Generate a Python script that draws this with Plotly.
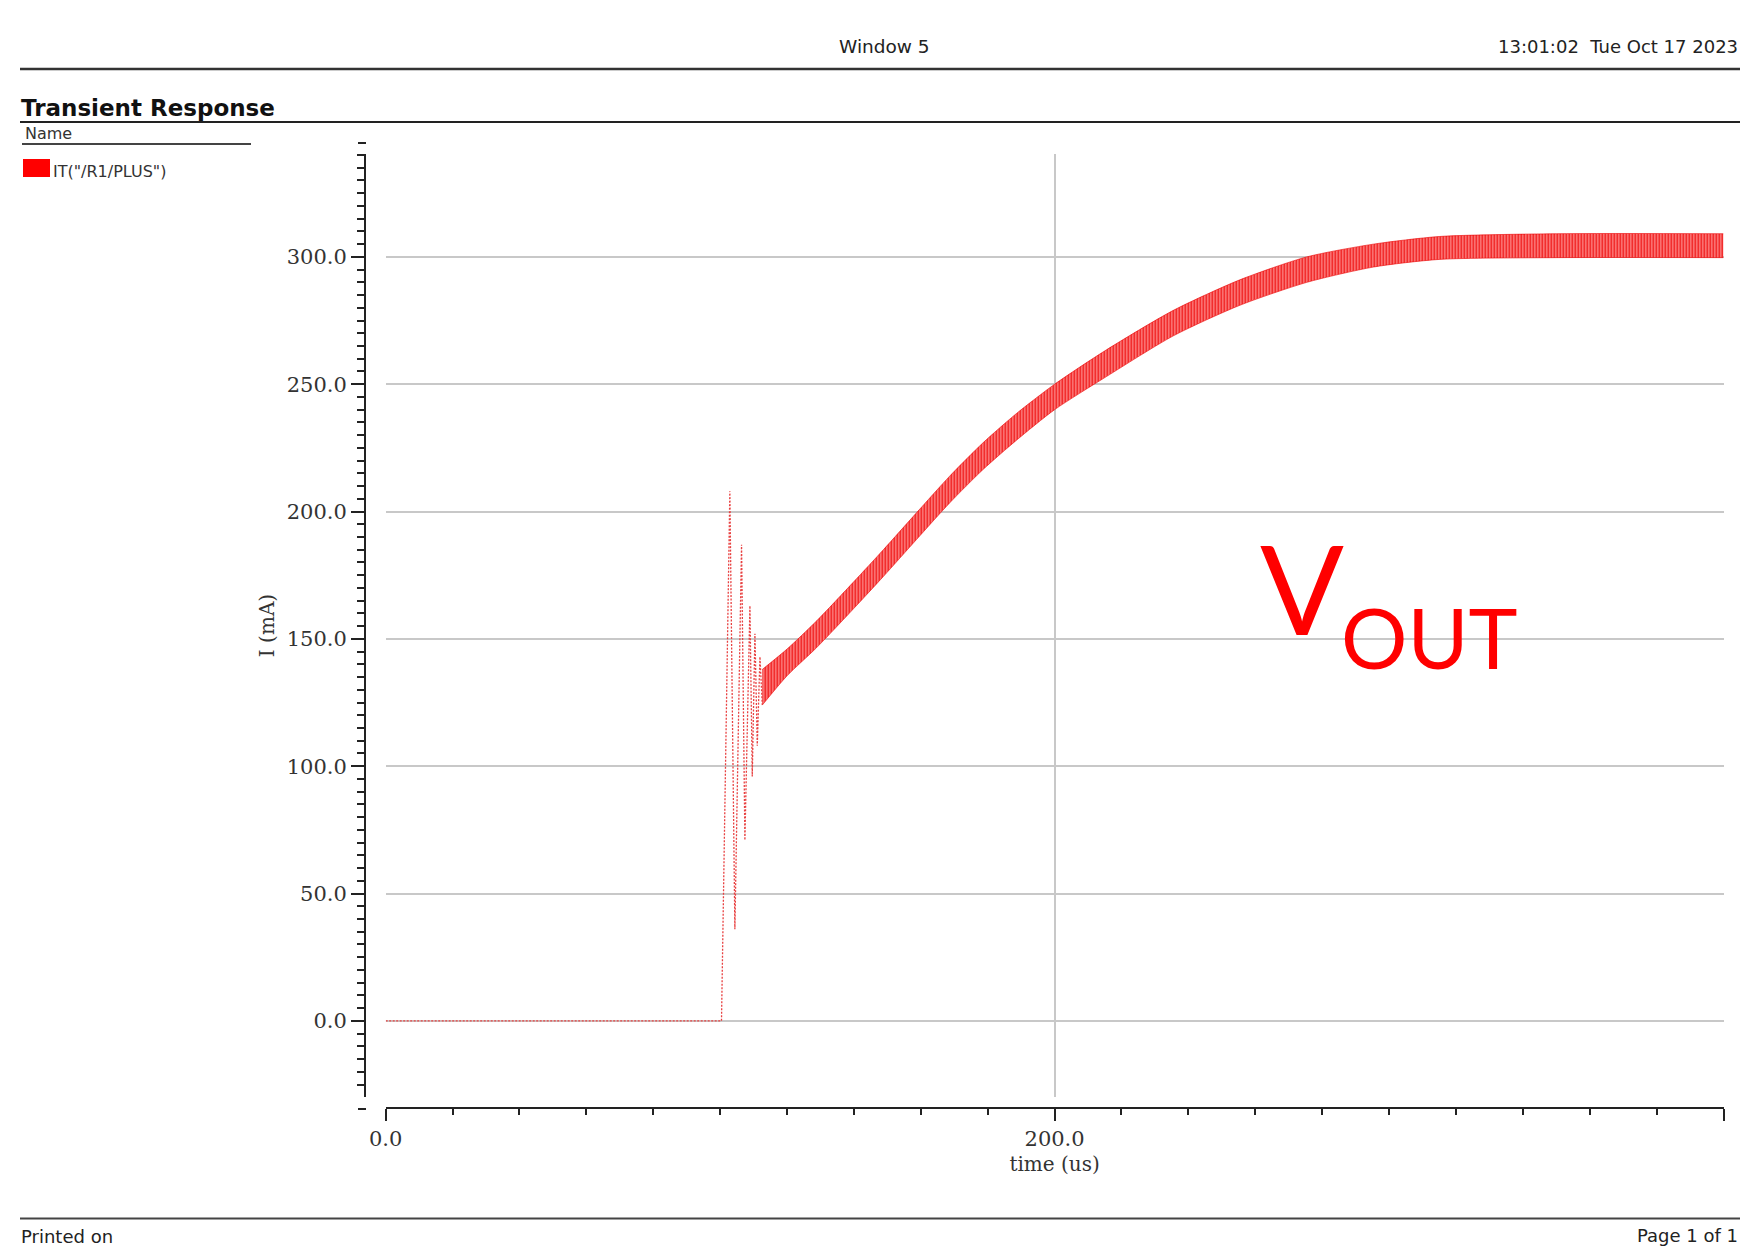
import plotly.graph_objects as go

# page body adds an 8px margin around the plot div: size the figure so it fits the window
PAGE_W, PAGE_H = 1748, 1257
OFF = 8
W, H = PAGE_W - 2 * OFF, PAGE_H - 2 * OFF

# ---------------- data ----------------
# start-up transient: zero current, then damped spikes (time in us, current in mA)
spike_t = [0.0, 100.0, 100.4, 102.9, 104.4, 106.4, 107.4, 108.9, 109.6, 110.4, 111.1, 111.9, 112.6]
spike_i = [0.0, 0.0, 0.0, 208.0, 36.0, 187.0, 71.0, 163.0, 96.0, 152.0, 108.0, 143.0, 124.0]

# ripple band after start-up: lower / upper envelope of the switching ripple
band_t = [112.6, 120.0, 128.8, 140.0, 148.8, 158.7, 168.7, 178.6, 188.6, 200.0,
          215.5, 235.5, 255.4, 275.4, 295.3, 315.0, 350.0, 400.0]
band_lo = [124.0, 135.5, 146.5, 162.0, 174.5, 189.0, 203.5, 216.5, 228.0, 240.0,
           253.0, 269.0, 281.0, 290.0, 296.0, 299.0, 299.7, 299.7]
band_hi = [138.0, 146.0, 157.0, 172.5, 185.0, 199.5, 214.0, 227.0, 238.5, 250.0,
           263.5, 279.0, 291.0, 300.0, 305.0, 308.0, 309.1, 309.1]

x_range = [0.0, 400.0]
y_range = [-29.9, 340.4]
x_major, x_minor = 200.0, 20.0
y_major, y_minor = 50.0, 5.0

series_name = 'IT("/R1/PLUS")'

# ---------------- helpers (window pixel -> paper) ----------------
def px(x):
    return (x - OFF) / W

def py(y):
    return 1 - (y - OFF) / H

RED = "#ff0000"
AX = "#222222"
GRID = "#c8c8c8"
SERIF = "DejaVu Serif"
SANS = "DejaVu Sans"

fig = go.Figure()

# ripple band (filled between envelopes)
fig.add_trace(go.Scatter(
    x=band_t, y=band_lo, mode="lines",
    line=dict(color="rgba(235,0,0,0.6)", width=1, shape="spline", smoothing=0.7),
    showlegend=False, hoverinfo="skip"))
fig.add_trace(go.Scatter(
    x=band_t, y=band_hi, mode="lines",
    line=dict(color="rgba(235,0,0,0.6)", width=1, shape="spline", smoothing=0.7),
    fill="tonexty", fillcolor="rgba(245,60,60,0.85)",
    fillpattern=dict(shape="|", size=3, solidity=0.5,
                     fgcolor="#ee1010", bgcolor="#ff9090", fillmode="replace"),
    name=series_name, showlegend=False, hoverinfo="skip"))

# start-up transient, dotted
fig.add_trace(go.Scatter(
    x=spike_t, y=spike_i, mode="lines",
    line=dict(color="#e84040", width=1.3, dash="2px,1.5px"),
    showlegend=False, hoverinfo="skip"))

# dummy trace to create the offset axes subplot
fig.add_trace(go.Scatter(x=[None], y=[None], xaxis="x2", yaxis="y2",
                         showlegend=False, hoverinfo="skip"))

x_dom = [px(385.7), px(1723.5)]
y_dom = [py(1097), py(154)]

fig.update_layout(
    width=W, height=H,
    margin=dict(l=0, r=0, t=0, b=0, autoexpand=False),
    paper_bgcolor="white", plot_bgcolor="white",
    showlegend=False,
    xaxis=dict(domain=x_dom, range=x_range, showgrid=True, gridcolor=GRID, gridwidth=1.5,
               tick0=0, dtick=x_major, showticklabels=False, ticks="",
               showline=False, zeroline=False, fixedrange=True, automargin=False),
    yaxis=dict(domain=y_dom, range=y_range, showgrid=True, gridcolor=GRID, gridwidth=1.5,
               tick0=0, dtick=y_major, showticklabels=False, ticks="",
               showline=False, zeroline=False, fixedrange=True, automargin=False),
    xaxis2=dict(overlaying="x", anchor="free", position=py(1108), domain=x_dom,
                range=x_range, showgrid=False, zeroline=False, automargin=False,
                showline=True, linecolor=AX, linewidth=2,
                ticks="outside", ticklen=12, tickwidth=2, tickcolor=AX,
                tick0=0, dtick=x_major, tickformat=".1f",
                tickfont=dict(family=SERIF, size=21, color="#333"),
                minor=dict(ticks="outside", dtick=x_minor, ticklen=6, tickwidth=1.5,
                           tickcolor=AX, showgrid=False),
                title=dict(text="time (us)", font=dict(family=SERIF, size=20, color="#333"),
                           standoff=6)),
    yaxis2=dict(overlaying="y", anchor="free", position=px(365), side="left",
                range=y_range, showgrid=False, zeroline=False, automargin=False,
                showline=True, linecolor=AX, linewidth=2,
                ticks="outside", ticklen=13, tickwidth=2, tickcolor=AX,
                tick0=0, dtick=y_major, tickformat=".1f",
                tickfont=dict(family=SERIF, size=21, color="#333"),
                minor=dict(ticks="outside", dtick=y_minor, ticklen=7, tickwidth=1.5,
                           tickcolor=AX, showgrid=False),
                title=dict(text="I (mA)", font=dict(family=SERIF, size=20, color="#333"),
                           standoff=6)),
)

shapes = [
    dict(type="line", xref="paper", yref="paper", x0=px(20), x1=px(1760), y0=py(69), y1=py(69),
         line=dict(color="#333", width=2.5)),
    dict(type="line", xref="paper", yref="paper", x0=px(20), x1=px(1760), y0=py(122), y1=py(122),
         line=dict(color="#222", width=2)),
    dict(type="line", xref="paper", yref="paper", x0=px(22), x1=px(251), y0=py(144), y1=py(144),
         line=dict(color="#444", width=2)),
    dict(type="rect", xref="paper", yref="paper", x0=px(23), x1=px(50), y0=py(177), y1=py(159),
         fillcolor=RED, line=dict(width=0)),
    dict(type="line", xref="paper", yref="paper", x0=px(20), x1=px(1760), y0=py(1218.5), y1=py(1218.5),
         line=dict(color="#444", width=2)),
    # small end marks of the y axis
    dict(type="line", xref="paper", yref="paper", x0=px(358), x1=px(366), y0=py(143), y1=py(143),
         line=dict(color=AX, width=2)),
    dict(type="line", xref="paper", yref="paper", x0=px(358), x1=px(366), y0=py(1109), y1=py(1109),
         line=dict(color=AX, width=2)),
]
fig.update_layout(shapes=shapes)

def ann(text, x, y, size, xanchor="left", family=SANS, color="#222", weight="normal"):
    return dict(text=text, xref="paper", yref="paper", x=px(x), y=py(y),
                xanchor=xanchor, yanchor="middle", showarrow=False,
                font=dict(family=family, size=size, color=color, weight=weight))

annotations = [
    ann("Window 5", 884, 46, 18.5, xanchor="center"),
    ann("13:01:02\u00a0\u00a0Tue Oct 17 2023", 1740, 46, 18, xanchor="right"),
    ann("Transient Response", 19, 108, 23, weight="bold", color="#111"),
    ann("Name", 23, 134, 16, color="#333"),
    ann(series_name, 51, 172, 16, color="#333"),
    ann("Printed on", 19, 1236, 18),
    ann("Page 1 of 1", 1740, 1235, 18, xanchor="right"),
    ann("V", 1258, 587, 124, family="Lato", color=RED),
    ann("OUT", 1339, 637, 83, family="Lato", color=RED),
]
fig.update_layout(annotations=annotations)

fig.write_html("out.html")
